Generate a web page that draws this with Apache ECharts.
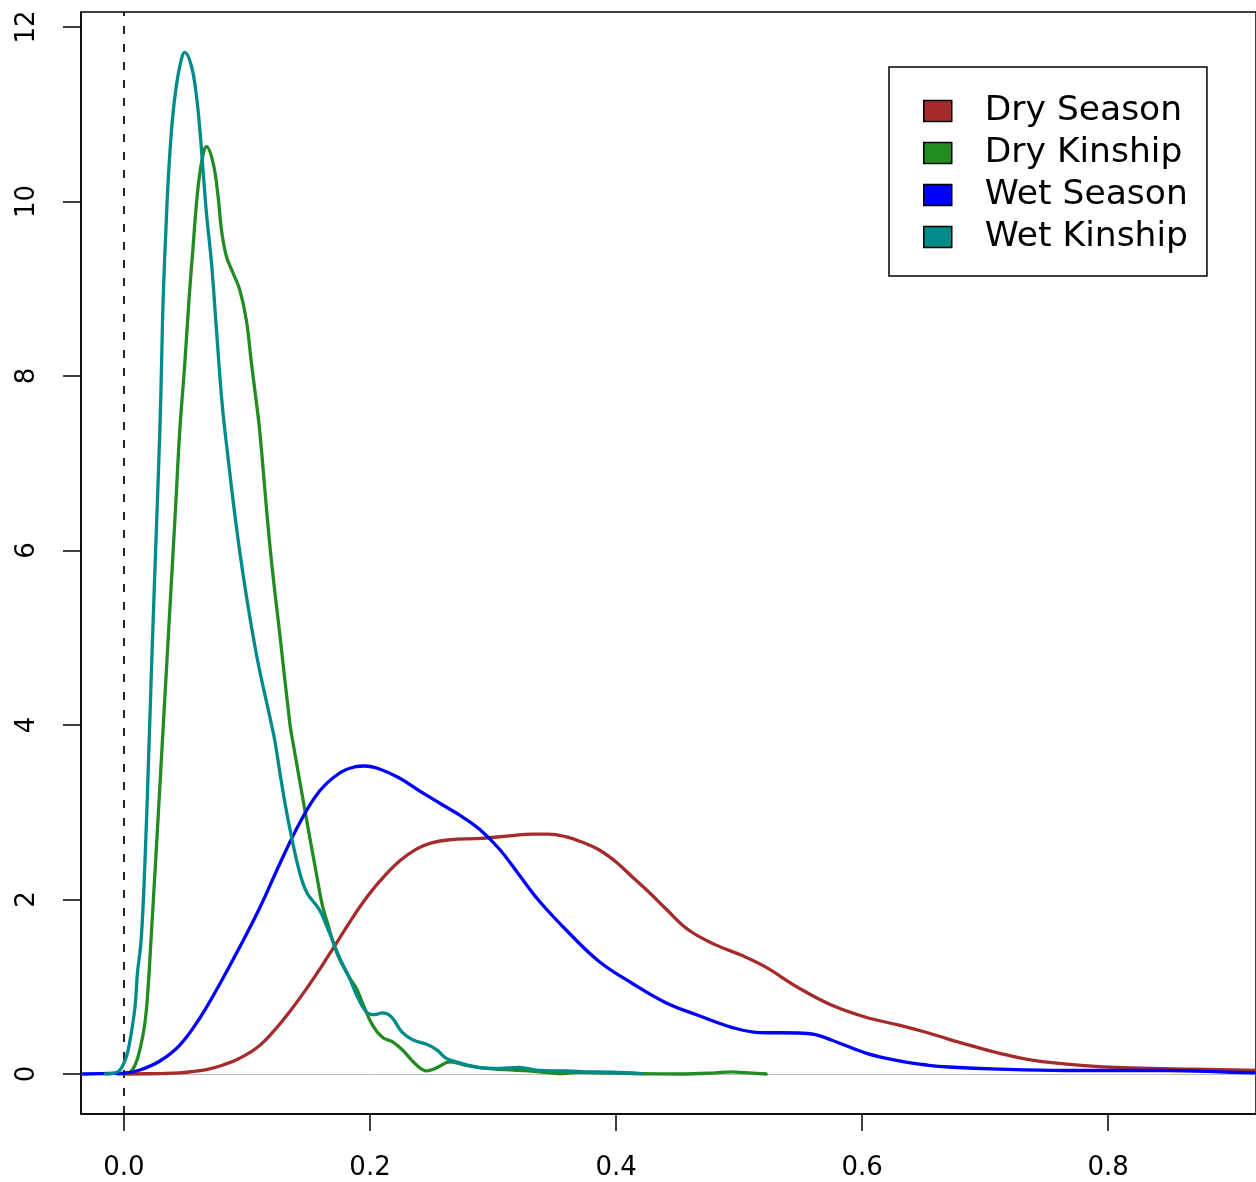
<!DOCTYPE html>
<html>
<head>
<meta charset="utf-8">
<title>Density</title>
<script src="https://cdn.jsdelivr.net/npm/echarts@6/dist/echarts.min.js"></script>
<style>
  html, body { margin: 0; padding: 0; background: #ffffff; }
  #chart { width: 1256px; height: 1182px; }
</style>
</head>
<body>
<div id="chart"></div>
<script>
// Kernel density estimates, [value, density] pairs
const drySeason = [
  [0.000, 0.000], [0.030, 0.005], [0.045, 0.012], [0.067, 0.050], [0.080, 0.100],
  [0.094, 0.180], [0.108, 0.300], [0.121, 0.480], [0.135, 0.720], [0.148, 0.970],
  [0.160, 1.220], [0.170, 1.440], [0.183, 1.730], [0.195, 1.980], [0.208, 2.210],
  [0.224, 2.440], [0.238, 2.580], [0.250, 2.650], [0.265, 2.685], [0.291, 2.700],
  [0.313, 2.730], [0.332, 2.750], [0.345, 2.750], [0.359, 2.720], [0.372, 2.660],
  [0.386, 2.570], [0.400, 2.430], [0.413, 2.260], [0.427, 2.080], [0.440, 1.900],
  [0.459, 1.650], [0.481, 1.480], [0.502, 1.360], [0.521, 1.230], [0.548, 0.990],
  [0.575, 0.790], [0.603, 0.650], [0.630, 0.560], [0.654, 0.470], [0.670, 0.400],
  [0.690, 0.320], [0.711, 0.240], [0.738, 0.160], [0.778, 0.100], [0.819, 0.070],
  [0.870, 0.055], [0.930, 0.040]
];

const dryKinship = [
  [-0.005, 0.000], [0.000, 0.005], [0.005, 0.020], [0.009, 0.100], [0.013, 0.280],
  [0.017, 0.580], [0.0195, 0.960], [0.022, 1.540], [0.026, 2.500], [0.030, 3.500],
  [0.034, 4.500], [0.038, 5.500], [0.042, 6.500], [0.0454, 7.380], [0.0495, 8.150],
  [0.0530, 8.900], [0.0562, 9.480], [0.0595, 10.060], [0.0630, 10.440], [0.0671, 10.630],
  [0.0725, 10.440], [0.0765, 10.060], [0.0793, 9.670], [0.0833, 9.370], [0.0887, 9.180],
  [0.0941, 8.990], [0.0995, 8.640], [0.1036, 8.150], [0.1077, 7.690], [0.1103, 7.380],
  [0.119, 6.000], [0.127, 5.000], [0.135, 4.000], [0.137, 3.830], [0.148, 2.950],
  [0.157, 2.250], [0.161, 1.950], [0.165, 1.750], [0.173, 1.390], [0.183, 1.110],
  [0.189, 0.980], [0.194, 0.810], [0.202, 0.560], [0.210, 0.420], [0.218, 0.370],
  [0.226, 0.280], [0.238, 0.100], [0.246, 0.035], [0.254, 0.070], [0.265, 0.140],
  [0.278, 0.100], [0.291, 0.070], [0.310, 0.050], [0.329, 0.035], [0.345, 0.015],
  [0.356, 0.005], [0.370, 0.020], [0.385, 0.012], [0.397, 0.010], [0.420, 0.003],
  [0.451, 0.000], [0.478, 0.010], [0.494, 0.025], [0.505, 0.015], [0.522, 0.000]
];

const wetSeason = [
  [-0.0333, 0.000], [-0.0114, 0.006], [0.000, 0.011], [0.013, 0.046], [0.0292, 0.149],
  [0.0454, 0.332], [0.0617, 0.642], [0.0779, 1.032], [0.0941, 1.455], [0.1103, 1.902],
  [0.1266, 2.407], [0.1428, 2.877], [0.159, 3.243], [0.1753, 3.450], [0.1874, 3.519],
  [0.1955, 3.530], [0.2077, 3.496], [0.2239, 3.393], [0.2402, 3.244], [0.2564, 3.106],
  [0.2726, 2.969], [0.2888, 2.808], [0.3051, 2.579], [0.3213, 2.281], [0.3375, 1.983],
  [0.3618, 1.616], [0.3862, 1.290], [0.413, 1.040], [0.440, 0.820], [0.467, 0.670],
  [0.494, 0.535], [0.516, 0.475], [0.548, 0.470], [0.562, 0.450], [0.575, 0.390],
  [0.603, 0.240], [0.630, 0.150], [0.654, 0.100], [0.670, 0.080], [0.711, 0.055],
  [0.765, 0.040], [0.846, 0.040], [0.900, 0.020], [0.930, 0.010]
];

const wetKinship = [
  [-0.015, 0.000], [-0.008, 0.010], [-0.003, 0.050], [0.002, 0.200], [0.005, 0.390],
  [0.009, 0.770], [0.011, 1.160], [0.014, 1.540], [0.017, 2.400], [0.020, 3.600],
  [0.023, 4.900], [0.026, 6.100], [0.0292, 7.380], [0.0306, 8.150], [0.0319, 8.900],
  [0.0341, 9.670], [0.0360, 10.250], [0.0387, 10.820], [0.0414, 11.200], [0.0454, 11.550],
  [0.0495, 11.710], [0.0549, 11.550], [0.0590, 11.200], [0.0617, 10.820], [0.0643, 10.360],
  [0.0671, 9.860], [0.0712, 9.290], [0.0752, 8.530], [0.0793, 7.760], [0.0820, 7.380],
  [0.094, 6.000], [0.107, 4.860], [0.120, 4.000], [0.1225, 3.830], [0.129, 3.260],
  [0.135, 2.800], [0.143, 2.300], [0.149, 2.070], [0.159, 1.880], [0.167, 1.620],
  [0.175, 1.340], [0.183, 1.110], [0.191, 0.850], [0.198, 0.700], [0.204, 0.680],
  [0.210, 0.700], [0.217, 0.660], [0.226, 0.480], [0.235, 0.390], [0.246, 0.340],
  [0.254, 0.280], [0.262, 0.180], [0.270, 0.140], [0.280, 0.100], [0.291, 0.070],
  [0.305, 0.065], [0.321, 0.075], [0.337, 0.040], [0.350, 0.035], [0.359, 0.035],
  [0.375, 0.025], [0.397, 0.020], [0.421, 0.005]
];

const seriesNames = ['Dry Season', 'Dry Kinship', 'Wet Season', 'Wet Kinship'];
const seriesColors = ['#A52A2A', '#228B22', '#0000FF', '#008B8B'];
const xTicks = [0, 0.2, 0.4, 0.6, 0.8];
const yTicks = [0, 2, 4, 6, 8, 10, 12];

const FONT = '"DejaVu Sans", "Liberation Sans", Arial, sans-serif';

const chart = echarts.init(document.getElementById('chart'), null, { renderer: 'canvas' });

const curves = [drySeason, dryKinship, wetSeason, wetKinship];

const series = curves.map((data, i) => ({
  name: seriesNames[i],
  type: 'line',
  data: data,
  smooth: 0.4,
  showSymbol: false,
  symbol: 'none',
  clip: true,
  z: 3 + i,
  color: seriesColors[i],
  lineStyle: { color: seriesColors[i], width: 3.3, join: 'round', cap: 'round' },
  itemStyle: { color: seriesColors[i] }
}));

// zero baseline and the dashed reference line at 0
series[0].markLine = {
  silent: true,
  symbol: ['none', 'none'],
  label: { show: false },
  animation: false,
  z: 1,
  data: [
    { yAxis: 0, lineStyle: { color: '#bebebe', width: 1, type: 'solid' } },
    { xAxis: 0, lineStyle: { color: '#000000', width: 1.7, type: [8, 10] } }
  ]
};

chart.setOption({
  animation: false,
  backgroundColor: '#ffffff',
  grid: {
    left: 81,
    top: 12,
    width: 1177,
    bottom: 68,
    show: true,
    borderColor: '#000000',
    borderWidth: 1.5,
    backgroundColor: 'transparent'
  },
  legend: {
    orient: 'vertical',
    left: 889,
    top: 67,
    data: seriesNames,
    icon: 'rect',
    itemWidth: 28,
    itemHeight: 21,
    itemGap: 7,
    selectedMode: false,
    padding: [26.5, 19, 21.5, 34],
    borderColor: '#000000',
    borderWidth: 1.5,
    backgroundColor: '#ffffff',
    itemStyle: { borderColor: '#000000', borderWidth: 1.5 },
    textStyle: {
      fontFamily: FONT,
      fontSize: 34.5,
      color: '#000000',
      lineHeight: 21,
      padding: [0, 0, 0, 28]
    }
  },
  xAxis: {
    type: 'value',
    min: -0.0349,
    max: 0.9201,
    axisLine: { show: true, onZero: false, lineStyle: { color: '#000000', width: 1.5 } },
    axisTick: {
      show: true,
      inside: false,
      length: 17,
      customValues: xTicks,
      lineStyle: { color: '#000000', width: 1.5 }
    },
    axisLabel: {
      show: true,
      customValues: xTicks,
      margin: 41,
      fontFamily: FONT,
      fontSize: 26,
      color: '#000000',
      formatter: v => v.toFixed(1)
    },
    splitLine: { show: false }
  },
  yAxis: {
    type: 'value',
    min: -0.4585,
    max: 12.172,
    axisLine: { show: true, onZero: false, lineStyle: { color: '#000000', width: 1.5 } },
    axisTick: {
      show: true,
      inside: false,
      length: 18,
      customValues: yTicks,
      lineStyle: { color: '#000000', width: 1.5 }
    },
    axisLabel: {
      show: true,
      customValues: yTicks,
      rotate: 90,
      margin: 41,
      fontFamily: FONT,
      fontSize: 26,
      color: '#000000',
      formatter: v => String(v)
    },
    splitLine: { show: false }
  },
  series: series
});
</script>
</body>
</html>
